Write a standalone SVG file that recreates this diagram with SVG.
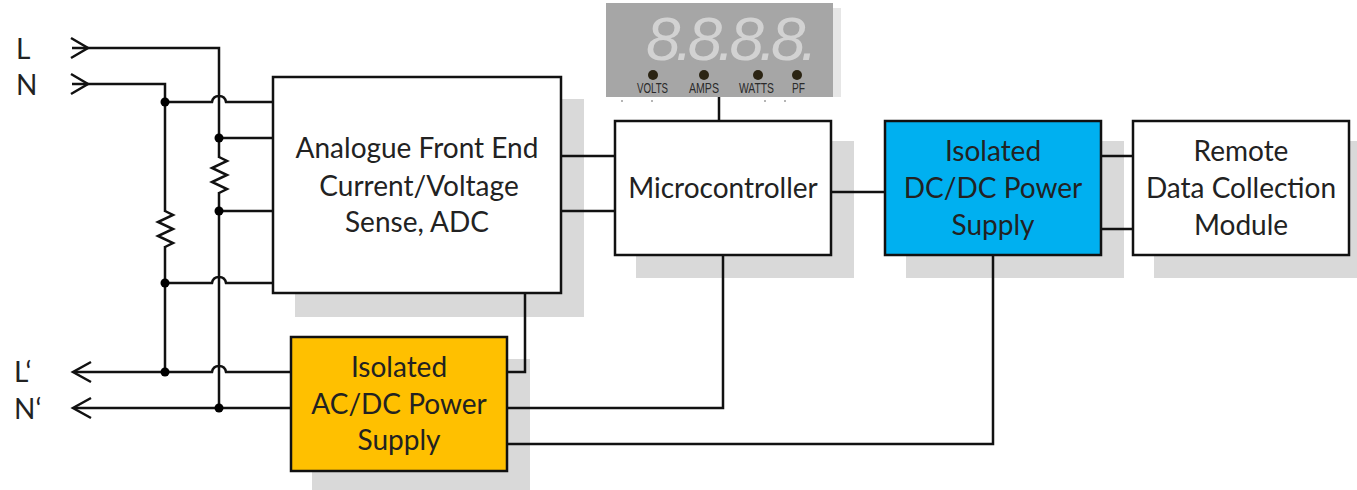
<svg xmlns="http://www.w3.org/2000/svg" width="1357" height="490" viewBox="0 0 1357 490">
<style>
.box{stroke:#111;stroke-width:2.5}
.sh{fill:#d9d9d9}
.w{fill:none;stroke:#111;stroke-width:2.5}
.j{fill:#000}
.t{font-family:Lato,"Liberation Sans",sans-serif;font-size:28px;fill:#222;text-anchor:middle}
.l{font-family:Lato,"Liberation Sans",sans-serif;font-size:28px;fill:#222}
.m{font-family:"Liberation Sans",sans-serif;font-size:14px;fill:#2a2a2a}
.d{font-family:"Liberation Sans",sans-serif;font-size:62px;font-style:italic;fill:#d2d2d2;letter-spacing:-5px}
.led{fill:#2b2413}
.tick{fill:#b5b5b5}
</style>
<rect width="1357" height="490" fill="#fff"/>
<g id="shadows">
<rect class="sh" x="295" y="99" width="289" height="218"/>
<rect class="sh" x="312" y="359" width="218" height="131"/>
<rect class="sh" x="636" y="141" width="218" height="137"/>
<rect class="sh" x="906" y="141" width="218" height="137"/>
<rect class="sh" x="1154" y="141" width="203" height="137"/>
<rect x="826" y="8" width="15" height="89" fill="#e6e6e6"/>
<rect class="tick" x="621" y="100" width="2" height="2"/><rect class="tick" x="651" y="100" width="2" height="2"/><rect class="tick" x="764" y="100" width="2" height="2"/><rect class="tick" x="784" y="100" width="2" height="2"/>
</g>
<g id="connectors">
<path class="w" d="M72 48H219V408M72 84H165V372"/>
<path class="w" d="M165 102H212q1-6 7-6t7 6H273M219 138H273M219 211H273M165 283H212q1-6 7-6t7 6H273"/>
<path class="w" d="M74 372H212q1-6 7-6t7 6H291M74 408H291"/>
<path class="w" d="M71 38L88 48L71 58M71 74L88 84L71 94M91 362L73 372L91 382M91 398L73 408L91 418"/>
<path class="w" d="M561 156H615M561 211H615M831 192H885M1101 156H1133M1101 229H1133M719 97V121"/>
<path class="w" d="M525 293V372H507M507 408H723V255M507 444H993V255"/>
</g>
<g id="resistors">
<rect x="211" y="158" width="16" height="34" fill="#fff"/>
<rect x="157" y="212" width="16" height="34" fill="#fff"/>
<path class="w" d="M219 157L227 161L212 168L227 175L212 182L227 189L219 193"/>
<path class="w" d="M165 211L173 215L158 222L173 229L158 236L173 243L165 247"/>
</g>
<g id="junctions">
<circle class="j" cx="165" cy="102" r="4.5"/><circle class="j" cx="219" cy="138" r="4.5"/><circle class="j" cx="219" cy="211" r="4.5"/><circle class="j" cx="165" cy="283" r="4.5"/><circle class="j" cx="165" cy="372" r="4.5"/><circle class="j" cx="219" cy="408" r="4.5"/>
</g>
<g id="labels">
<text class="l" x="16" y="59">L</text><text class="l" x="16" y="95">N</text><text class="l" x="14" y="382">L‘</text><text class="l" x="14" y="419">N‘</text>
</g>
<g id="afe">
<rect class="box" x="273" y="77" width="288" height="216" fill="#fff"/>
<text class="t" x="417" y="158">Analogue Front End</text><text class="t" x="419" y="196">Current/Voltage</text><text class="t" x="417" y="232">Sense, ADC</text>
</g>
<g id="display">
<rect x="606" y="3" width="227" height="94" fill="#a6a6a6"/>
<text class="d" x="646" y="60">8.8.8.8.</text>
<circle class="led" cx="653" cy="75" r="5"/><circle class="led" cx="704" cy="75" r="5"/><circle class="led" cx="758" cy="75" r="5"/><circle class="led" cx="797" cy="75" r="5"/>
<text class="m" x="637" y="93" textLength="31" lengthAdjust="spacingAndGlyphs">VOLTS</text><text class="m" x="689" y="93" textLength="30" lengthAdjust="spacingAndGlyphs">AMPS</text><text class="m" x="739" y="93" textLength="35" lengthAdjust="spacingAndGlyphs">WATTS</text><text class="m" x="792" y="93" textLength="13" lengthAdjust="spacingAndGlyphs">PF</text>
</g>
<g id="microcontroller">
<rect class="box" x="615" y="121" width="216" height="134" fill="#fff"/>
<text class="t" x="723" y="198">Microcontroller</text>
</g>
<g id="dcdc">
<rect class="box" x="885" y="121" width="216" height="134" fill="#00b0f0"/>
<text class="t" x="993" y="161">Isolated</text><text class="t" x="993" y="198">DC/DC Power</text><text class="t" x="993" y="235">Supply</text>
</g>
<g id="remote">
<rect class="box" x="1133" y="121" width="216" height="134" fill="#fff"/>
<text class="t" x="1241" y="161">Remote</text><text class="t" x="1241" y="198">Data Collection</text><text class="t" x="1241" y="235">Module</text>
</g>
<g id="acdc">
<rect class="box" x="291" y="337" width="216" height="134" fill="#ffc000"/>
<text class="t" x="399" y="377">Isolated</text><text class="t" x="399" y="414">AC/DC Power</text><text class="t" x="399" y="450">Supply</text>
</g>
</svg>
